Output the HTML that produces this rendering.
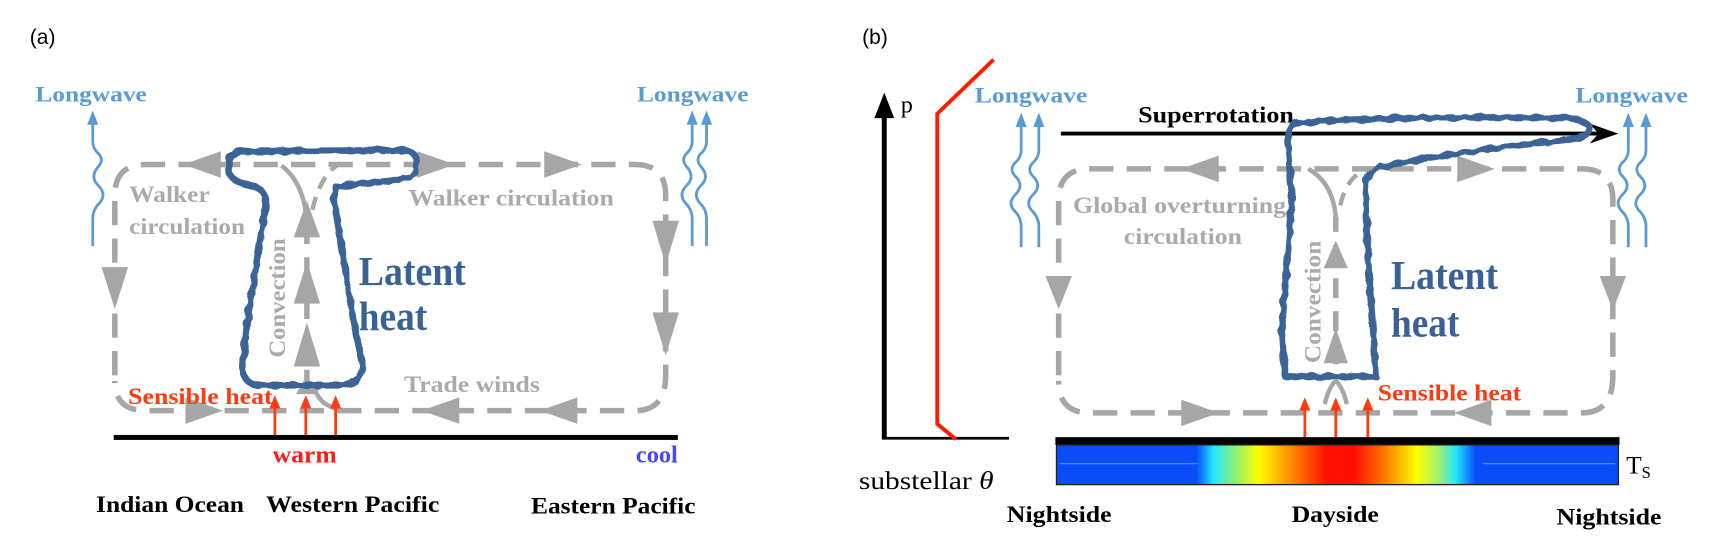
<!DOCTYPE html>
<html><head><meta charset="utf-8"><style>
html,body{margin:0;padding:0;background:#fff;}
svg{display:block;}
.lw{font-family:"Liberation Serif",serif;font-weight:bold;fill:#5b9bd5;font-size:20px;}
.gr{font-family:"Liberation Serif",serif;font-weight:bold;fill:#aaaaaa;font-size:21px;}
.lab{font-family:"Liberation Serif",serif;font-weight:bold;fill:#000;font-size:21px;}
.lh{font-family:"Liberation Serif",serif;font-weight:bold;fill:#3a6193;font-size:37px;}
.red{font-family:"Liberation Serif",serif;font-weight:bold;fill:#ff3a10;font-size:21px;}
</style></head><body>
<svg width="1731" height="547" viewBox="0 0 1568 495.5" xmlns="http://www.w3.org/2000/svg">
<defs>
<filter id="wob" x="-10%" y="-10%" width="120%" height="120%">
<feTurbulence type="fractalNoise" baseFrequency="0.13" numOctaves="1" seed="3"/>
<feDisplacementMap in="SourceGraphic" scale="5"/>
</filter>
<linearGradient id="ts" x1="956" x2="1467" y1="0" y2="0" gradientUnits="userSpaceOnUse">
<stop offset="0" stop-color="#0a4cf8"/>
<stop offset="0.25" stop-color="#0a4cf8"/>
<stop offset="0.28" stop-color="#20e8ff"/>
<stop offset="0.32" stop-color="#90f070"/>
<stop offset="0.36" stop-color="#ffff00"/>
<stop offset="0.41" stop-color="#ff9a00"/>
<stop offset="0.48" stop-color="#ff1000"/>
<stop offset="0.53" stop-color="#ff1000"/>
<stop offset="0.58" stop-color="#ff7000"/>
<stop offset="0.64" stop-color="#ffff00"/>
<stop offset="0.68" stop-color="#a0f070"/>
<stop offset="0.71" stop-color="#20e8ff"/>
<stop offset="0.745" stop-color="#0a4cf8"/>
<stop offset="1" stop-color="#0a4cf8"/>
</linearGradient>
</defs>

<!-- ============ PANEL A ============ -->
<text x="27" y="40" font-family="Liberation Sans,sans-serif" font-size="19">(a)</text>
<text class="lw" x="32" y="92" textLength="101" lengthAdjust="spacingAndGlyphs">Longwave</text>
<text class="lw" x="577" y="92" textLength="101" lengthAdjust="spacingAndGlyphs">Longwave</text>

<g fill="none" stroke="#5b9bd5" stroke-width="2.5">
<path d="M84 223 V198 Q84 190 90 184 Q97 176 89 168 Q81 160 89 151 Q95 144 88 138 Q84 134 84 128 V110"/>
<path d="M627 223 V198 Q627 190 621 184 Q614 176 622 168 Q630 160 622 151 Q616 144 623 138 Q627 134 627 128 V110"/>
<path d="M640 223 V198 Q640 190 634 184 Q627 176 635 168 Q643 160 635 151 Q629 144 636 138 Q640 134 640 128 V110"/>
</g>
<g fill="#5b9bd5">
<polygon points="84,100 79,113 89,113"/>
<polygon points="627,100 622,113 632,113"/>
<polygon points="640,100 635,113 645,113"/>
</g>

<g fill="none" stroke="#a6a6a6" stroke-width="5" stroke-dasharray="22 12">
<path d="M104 340 V177 Q104 149 132 149 H575 Q603 149 603 177 V340 Q603 372 575 372 H132 Q104 372 104 345"/>
<path d="M278 357 V200"/>
<path d="M278 200 Q275 165 255 150" stroke-dasharray="none" stroke-width="4"/>
<path d="M283 190 Q290 160 305 150" stroke-dasharray="12 8" stroke-width="4"/>
<path d="M315 372 Q290 370 285 352" stroke-dasharray="none" stroke-width="4"/>
</g>
<g fill="#a6a6a6">
<polygon points="166,149 200,137 200,161"/>
<polygon points="412,149 378,137 378,161"/>
<polygon points="527,149 493,137 493,161"/>
<polygon points="603,240 591,200 615,200"/>
<polygon points="603,322 591,283 615,283"/>
<polygon points="104,280 92,242 116,242"/>
<polygon points="202,372 168,360 168,384"/>
<polygon points="382,372 416,360 416,384"/>
<polygon points="489,372 523,360 523,384"/>
<polygon points="278,182 266,215 290,215"/>
<polygon points="278,237 266,275 290,275"/>
<polygon points="278,292 266,332 290,332"/>
<polygon points="278,340 268,357 288,357"/>
</g>

<path filter="url(#wob)" fill="none" stroke="#3a6496" stroke-width="6" stroke-linejoin="round"
d="M207 150 C206 139 215 136 226 137 L366 136 C380 137 381 152 372 160 C360 165 330 165 306 169 C302 172 302 180 304 190 L312 240 L320 290 L328 328 C330 344 318 349 305 349 L234 349 C221 348 217 336 221 323 L224 290 L232 240 L240 190 C242 174 238 170 222 167 C210 163 206 158 207 150 Z"/>

<text class="gr" x="0" y="0" transform="translate(258,324) rotate(-90)" textLength="108" lengthAdjust="spacingAndGlyphs">Convection</text>
<text class="lh" x="325" y="258" textLength="97" lengthAdjust="spacingAndGlyphs">Latent</text>
<text class="lh" x="325" y="299" textLength="62" lengthAdjust="spacingAndGlyphs">heat</text>
<text class="gr" x="117" y="183" textLength="73" lengthAdjust="spacingAndGlyphs">Walker</text>
<text class="gr" x="117" y="212" textLength="105" lengthAdjust="spacingAndGlyphs">circulation</text>
<text class="gr" x="370" y="186" textLength="186" lengthAdjust="spacingAndGlyphs">Walker circulation</text>
<text class="gr" x="366" y="355" textLength="123" lengthAdjust="spacingAndGlyphs">Trade winds</text>
<text class="red" x="116" y="366" textLength="131" lengthAdjust="spacingAndGlyphs">Sensible heat</text>

<g stroke="#ff3a10" stroke-width="2.5">
<line x1="249" y1="395" x2="249" y2="368"/><line x1="277" y1="395" x2="277" y2="368"/><line x1="304" y1="395" x2="304" y2="368"/>
</g>
<g fill="#ff3a10">
<polygon points="249,358 244,370 254,370"/><polygon points="277,358 272,370 282,370"/><polygon points="304,358 299,370 309,370"/>
</g>
<rect x="103" y="394" width="511" height="4.5" fill="#000"/>
<text x="247" y="419" font-family="Liberation Serif,serif" font-weight="bold" font-size="22" fill="#ff1a1a" textLength="58" lengthAdjust="spacingAndGlyphs">warm</text>
<text x="576" y="419" font-family="Liberation Serif,serif" font-weight="bold" font-size="22" fill="#4646ff" textLength="38" lengthAdjust="spacingAndGlyphs">cool</text>
<text class="lab" x="87" y="464" textLength="134" lengthAdjust="spacingAndGlyphs">Indian Ocean</text>
<text class="lab" x="241" y="464" textLength="157" lengthAdjust="spacingAndGlyphs">Western Pacific</text>
<text class="lab" x="481" y="465" textLength="149" lengthAdjust="spacingAndGlyphs">Eastern Pacific</text>

<!-- ============ PANEL B ============ -->
<text x="781" y="40" font-family="Liberation Sans,sans-serif" font-size="19">(b)</text>
<line x1="801" y1="100" x2="801" y2="398" stroke="#000" stroke-width="4.5"/>
<polygon points="801,84 792,107 810,107" fill="#000"/>
<line x1="799" y1="397" x2="914" y2="397" stroke="#000" stroke-width="2.5"/>
<text x="816" y="102" font-family="Liberation Serif,serif" font-size="22">p</text>
<polyline points="900,54 849,103 849,384 866,398" fill="none" stroke="#ff1a00" stroke-width="3.5"/>
<text x="778" y="443" font-family="Liberation Serif,serif" font-size="23" textLength="122" lengthAdjust="spacingAndGlyphs">substellar <tspan font-style="italic">θ</tspan></text>

<text class="lw" x="883" y="93" textLength="102" lengthAdjust="spacingAndGlyphs">Longwave</text>
<text class="lw" x="1427" y="93" textLength="102" lengthAdjust="spacingAndGlyphs">Longwave</text>
<g fill="none" stroke="#5b9bd5" stroke-width="2.5">
<path d="M925 224 V205 Q925 197 919 191 Q912 184 920 176 Q928 168 920 160 Q913 153 921 146 Q925 142 925 136 V112"/>
<path d="M941 224 V205 Q941 197 935 191 Q928 184 936 176 Q944 168 936 160 Q929 153 937 146 Q941 142 941 136 V112"/>
<path d="M1475 224 V205 Q1475 197 1469 191 Q1462 184 1470 176 Q1478 168 1470 160 Q1463 153 1471 146 Q1475 142 1475 136 V112"/>
<path d="M1491 224 V205 Q1491 197 1485 191 Q1478 184 1486 176 Q1494 168 1486 160 Q1479 153 1487 146 Q1491 142 1491 136 V112"/>
</g>
<g fill="#5b9bd5">
<polygon points="925,102 920,115 930,115"/><polygon points="941,102 936,115 946,115"/>
<polygon points="1475,102 1470,115 1480,115"/><polygon points="1491,102 1486,115 1496,115"/>
</g>

<g fill="none" stroke="#a6a6a6" stroke-width="5" stroke-dasharray="22 12">
<path d="M959 340 V181 Q959 153 987 153 H1433 Q1461 153 1461 181 V340 Q1461 374 1433 374 H987 Q959 374 959 345"/>
<path d="M1210 330 V196" stroke-dasharray="18 12"/>
<path d="M1210 196 Q1207 165 1185 153" stroke-dasharray="none" stroke-width="4"/>
<path d="M1214 186 Q1220 160 1238 153" stroke-dasharray="12 8" stroke-width="4"/>
<path d="M1200 366 Q1204 350 1210 345 Q1216 350 1220 366" stroke-dasharray="none" stroke-width="4"/>
</g>
<g fill="#a6a6a6">
<polygon points="1070,153 1104,141 1104,165"/>
<polygon points="1354,153 1320,141 1320,165"/>
<polygon points="959,280 947,250 971,250"/>
<polygon points="1461,281 1449,250 1473,250"/>
<polygon points="1104,374 1070,362 1070,386"/>
<polygon points="1317,374 1351,362 1351,386"/>
<polygon points="1210,218 1199,243 1221,243"/>
<polygon points="1210,297 1199,329 1221,329"/>
</g>

<line x1="961" y1="121" x2="1455" y2="121" stroke="#000" stroke-width="3.5"/>
<polygon points="1466,121 1440,112 1448,121 1440,130" fill="#000"/>
<text class="lab" x="1031" y="111" textLength="141" lengthAdjust="spacingAndGlyphs">Superrotation</text>

<path filter="url(#wob)" fill="none" stroke="#3a6496" stroke-width="6" stroke-linejoin="round"
d="M1173 112 C1200 108 1300 105 1420 107 C1446 109 1446 123 1424 126 C1380 131 1300 140 1252 151 C1238 156 1236 162 1237 176 L1240 250 L1244 300 L1246 341 L1164 341 L1161 300 L1165 250 L1170 180 L1167 135 C1166 121 1168 114 1173 112 Z"/>

<text class="gr" x="0" y="0" transform="translate(1196,329) rotate(-90)" textLength="111" lengthAdjust="spacingAndGlyphs">Convection</text>
<text class="lh" x="1260" y="262" textLength="97" lengthAdjust="spacingAndGlyphs">Latent</text>
<text class="lh" x="1260" y="305" textLength="62" lengthAdjust="spacingAndGlyphs">heat</text>
<text class="gr" x="972" y="193" textLength="193" lengthAdjust="spacingAndGlyphs">Global overturning</text>
<text class="gr" x="1018" y="221" textLength="107" lengthAdjust="spacingAndGlyphs">circulation</text>
<text class="red" x="1248" y="363" textLength="130" lengthAdjust="spacingAndGlyphs">Sensible heat</text>

<g stroke="#ff3a10" stroke-width="2.5">
<line x1="1182" y1="397" x2="1182" y2="370"/><line x1="1210" y1="397" x2="1210" y2="370"/><line x1="1239" y1="397" x2="1239" y2="370"/>
</g>
<g fill="#ff3a10">
<polygon points="1182,360 1177,372 1187,372"/><polygon points="1210,360 1205,372 1215,372"/><polygon points="1239,360 1234,372 1244,372"/>
</g>

<rect x="956" y="396" width="511" height="7" fill="#000"/>
<rect x="957" y="403" width="509" height="36" fill="url(#ts)" stroke="#222" stroke-width="1.2"/>
<line x1="960" y1="420" x2="1085" y2="420" stroke="#5a8cff" stroke-width="1"/>
<line x1="1343" y1="420" x2="1463" y2="420" stroke="#5a8cff" stroke-width="1"/>
<text x="1473" y="429" font-family="Liberation Serif,serif" font-size="23">T<tspan font-size="15" dy="4">S</tspan></text>

<text class="lab" x="912" y="473" textLength="95" lengthAdjust="spacingAndGlyphs">Nightside</text>
<text class="lab" x="1170" y="473" textLength="79" lengthAdjust="spacingAndGlyphs">Dayside</text>
<text class="lab" x="1410" y="475" textLength="95" lengthAdjust="spacingAndGlyphs">Nightside</text>
</svg>
</body></html>
